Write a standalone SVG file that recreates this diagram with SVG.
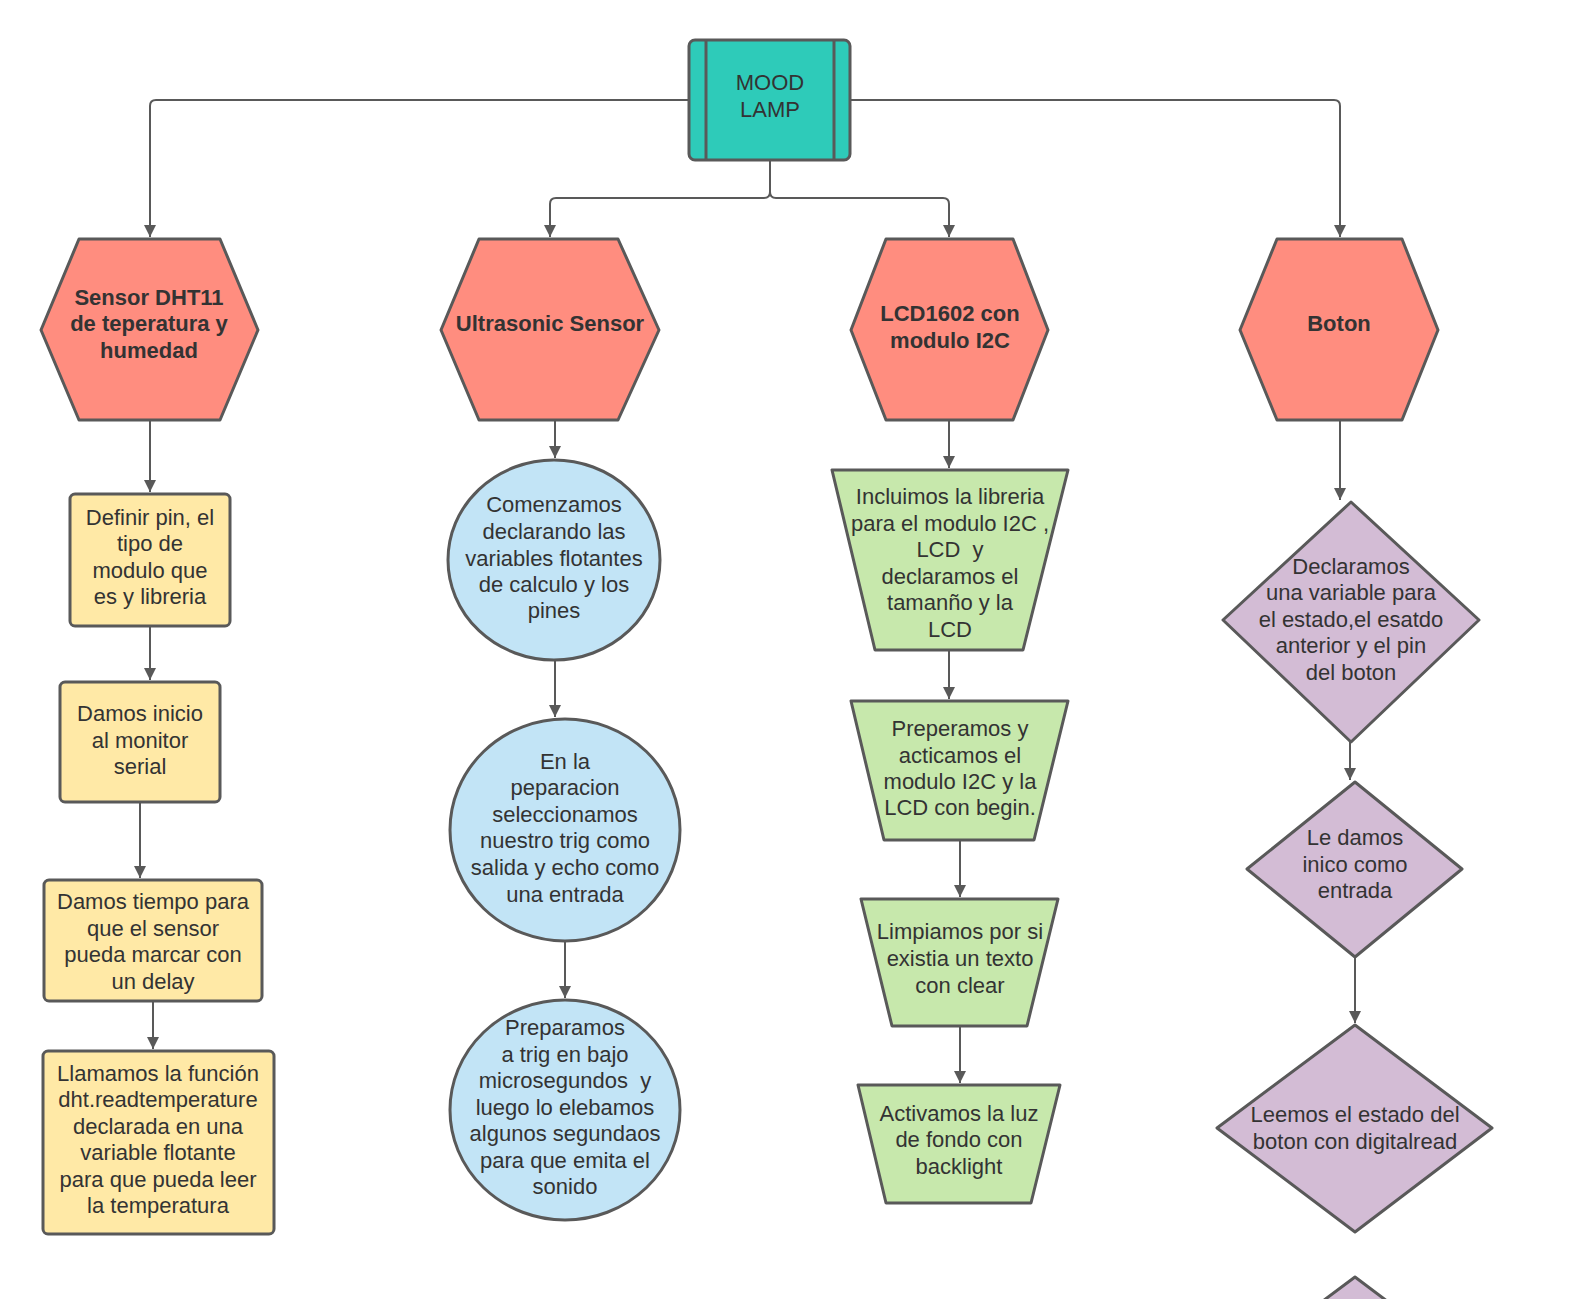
<svg xmlns="http://www.w3.org/2000/svg" width="1582" height="1299" viewBox="0 0 1582 1299">
<style>
text{font-family:"Liberation Sans",Arial,sans-serif;font-size:22px;fill:#333333;text-anchor:middle;white-space:pre}
.b{font-weight:bold}
.shape{stroke:#595959;stroke-width:3;stroke-linejoin:round}
.teal{fill:#2ECBB9}
.hex{fill:#FF8D7F}
.yel{fill:#FFE9A6}
.blue{fill:#C2E4F6}
.green{fill:#C7E8AC}
.pur{fill:#D3BCD5}
.c{fill:none;stroke:#595959;stroke-width:2}
</style>
<defs>
<marker id="ah" viewBox="0 0 12 12" refX="12" refY="6" markerWidth="12" markerHeight="12" markerUnits="userSpaceOnUse" orient="auto">
<path d="M0,0 L12,6 L0,12 z" fill="#595959"/>
</marker>
</defs>
<rect width="1582" height="1299" fill="#ffffff"/>
<g id="connectors">
<path class="c" d="M689,100 H156 Q150,100 150,106 V237" marker-end="url(#ah)"/>
<path class="c" d="M850,100 H1334 Q1340,100 1340,106 V237" marker-end="url(#ah)"/>
<path class="c" d="M770,160 V192 Q770,198 764,198 H556 Q550,198 550,204 V237" marker-end="url(#ah)"/>
<path class="c" d="M770,160 V192 Q770,198 776,198 H943 Q949,198 949,204 V237" marker-end="url(#ah)"/>
<path class="c" d="M150,421 V492" marker-end="url(#ah)"/>
<path class="c" d="M150,626 V680" marker-end="url(#ah)"/>
<path class="c" d="M140,802 V878" marker-end="url(#ah)"/>
<path class="c" d="M153,1001 V1049" marker-end="url(#ah)"/>
<path class="c" d="M555,420 V458" marker-end="url(#ah)"/>
<path class="c" d="M555,660 V717" marker-end="url(#ah)"/>
<path class="c" d="M565,941 V998" marker-end="url(#ah)"/>
<path class="c" d="M949,420 V468" marker-end="url(#ah)"/>
<path class="c" d="M949,650 V699" marker-end="url(#ah)"/>
<path class="c" d="M960,840 V897" marker-end="url(#ah)"/>
<path class="c" d="M960,1026 V1083" marker-end="url(#ah)"/>
<path class="c" d="M1340,420 V500" marker-end="url(#ah)"/>
<path class="c" d="M1350,742 V780" marker-end="url(#ah)"/>
<path class="c" d="M1355,957 V1023" marker-end="url(#ah)"/>
</g>
<g id="mood-lamp">
<rect class="shape teal" x="689" y="40" width="161" height="120" rx="6"/>
<line class="shape" x1="706" y1="40" x2="706" y2="160"/>
<line class="shape" x1="834" y1="40" x2="834" y2="160"/>
<text x="770" y="90">MOOD</text>
<text x="770" y="117">LAMP</text>
</g>
<g id="hex-dht11">
<polygon class="shape hex" points="79,239 220,239 258,330 220,420 79,420 41,330"/>
<text class="b" x="149" y="305">Sensor DHT11</text>
<text class="b" x="149" y="331">de teperatura y</text>
<text class="b" x="149" y="358">humedad</text>
</g>
<g id="hex-ultrasonic">
<polygon class="shape hex" points="479,239 618,239 659,330 618,420 479,420 441,330"/>
<text class="b" x="550" y="331">Ultrasonic Sensor</text>
</g>
<g id="hex-lcd">
<polygon class="shape hex" points="886,239 1013,239 1048,330 1013,420 886,420 851,330"/>
<text class="b" x="950" y="321">LCD1602 con</text>
<text class="b" x="950" y="348">modulo I2C</text>
</g>
<g id="hex-boton">
<polygon class="shape hex" points="1277,239 1402,239 1438,330 1402,420 1277,420 1240,330"/>
<text class="b" x="1339" y="331">Boton</text>
</g>
<g id="dht-1">
<rect class="shape yel" x="70" y="494" width="160" height="132" rx="5"/>
<text x="150" y="525">Definir pin, el</text>
<text x="150" y="551">tipo de</text>
<text x="150" y="578">modulo que</text>
<text x="150" y="604">es y libreria</text>
</g>
<g id="dht-2">
<rect class="shape yel" x="60" y="682" width="160" height="120" rx="5"/>
<text x="140" y="721">Damos inicio</text>
<text x="140" y="748">al monitor</text>
<text x="140" y="774">serial</text>
</g>
<g id="dht-3">
<rect class="shape yel" x="44" y="880" width="218" height="121" rx="5"/>
<text x="153" y="909">Damos tiempo para</text>
<text x="153" y="936">que el sensor</text>
<text x="153" y="962">pueda marcar con</text>
<text x="153" y="989">un delay</text>
</g>
<g id="dht-4">
<rect class="shape yel" x="43" y="1051" width="231" height="183" rx="5"/>
<text x="158" y="1081">Llamamos la función</text>
<text x="158" y="1107">dht.readtemperature</text>
<text x="158" y="1134">declarada en una</text>
<text x="158" y="1160">variable flotante</text>
<text x="158" y="1187">para que pueda leer</text>
<text x="158" y="1213">la temperatura</text>
</g>
<g id="us-1">
<ellipse class="shape blue" cx="554" cy="560" rx="106" ry="100"/>
<text x="554" y="512">Comenzamos</text>
<text x="554" y="539">declarando las</text>
<text x="554" y="566">variables flotantes</text>
<text x="554" y="592">de calculo y los</text>
<text x="554" y="618">pines</text>
</g>
<g id="us-2">
<ellipse class="shape blue" cx="565" cy="830" rx="115" ry="111"/>
<text x="565" y="769">En la</text>
<text x="565" y="795">peparacion</text>
<text x="565" y="822">seleccionamos</text>
<text x="565" y="848">nuestro trig como</text>
<text x="565" y="875">salida y echo como</text>
<text x="565" y="902">una entrada</text>
</g>
<g id="us-3">
<ellipse class="shape blue" cx="565" cy="1110" rx="115" ry="110"/>
<text x="565" y="1035">Preparamos</text>
<text x="565" y="1062">a trig en bajo</text>
<text x="565" y="1088">microsegundos  y</text>
<text x="565" y="1115">luego lo elebamos</text>
<text x="565" y="1141">algunos segundaos</text>
<text x="565" y="1168">para que emita el</text>
<text x="565" y="1194">sonido</text>
</g>
<g id="lcd-1">
<polygon class="shape green" points="832,470 1068,470 1023,650 875,650"/>
<text x="950" y="504">Incluimos la libreria</text>
<text x="950" y="531">para el modulo I2C ,</text>
<text x="950" y="557">LCD  y</text>
<text x="950" y="584">declaramos el</text>
<text x="950" y="610">tamanño y la</text>
<text x="950" y="637">LCD</text>
</g>
<g id="lcd-2">
<polygon class="shape green" points="851,701 1068,701 1034,840 884,840"/>
<text x="960" y="736">Preperamos y</text>
<text x="960" y="763">acticamos el</text>
<text x="960" y="789">modulo I2C y la</text>
<text x="960" y="815">LCD con begin.</text>
</g>
<g id="lcd-3">
<polygon class="shape green" points="861,899 1058,899 1027,1026 892,1026"/>
<text x="960" y="939">Limpiamos por si</text>
<text x="960" y="966">existia un texto</text>
<text x="960" y="993">con clear</text>
</g>
<g id="lcd-4">
<polygon class="shape green" points="858,1085 1060,1085 1031,1203 886,1203"/>
<text x="959" y="1121">Activamos la luz</text>
<text x="959" y="1147">de fondo con</text>
<text x="959" y="1174">backlight</text>
</g>
<g id="btn-1">
<polygon class="shape pur" points="1351,502 1479,620 1351,742 1223,620"/>
<text x="1351" y="574">Declaramos</text>
<text x="1351" y="600">una variable para</text>
<text x="1351" y="627">el estado,el esatdo</text>
<text x="1351" y="653">anterior y el pin</text>
<text x="1351" y="680">del boton</text>
</g>
<g id="btn-2">
<polygon class="shape pur" points="1355,782 1462,869 1355,957 1247,869"/>
<text x="1355" y="845">Le damos</text>
<text x="1355" y="872">inico como</text>
<text x="1355" y="898">entrada</text>
</g>
<g id="btn-3">
<polygon class="shape pur" points="1355,1025 1492,1128 1355,1232 1217,1128"/>
<text x="1355" y="1122">Leemos el estado del</text>
<text x="1355" y="1149">boton con digitalread</text>
</g>
<g id="btn-4">
<polygon class="shape pur" points="1355,1277 1492,1380 1355,1484 1217,1380"/>
</g>
</svg>
